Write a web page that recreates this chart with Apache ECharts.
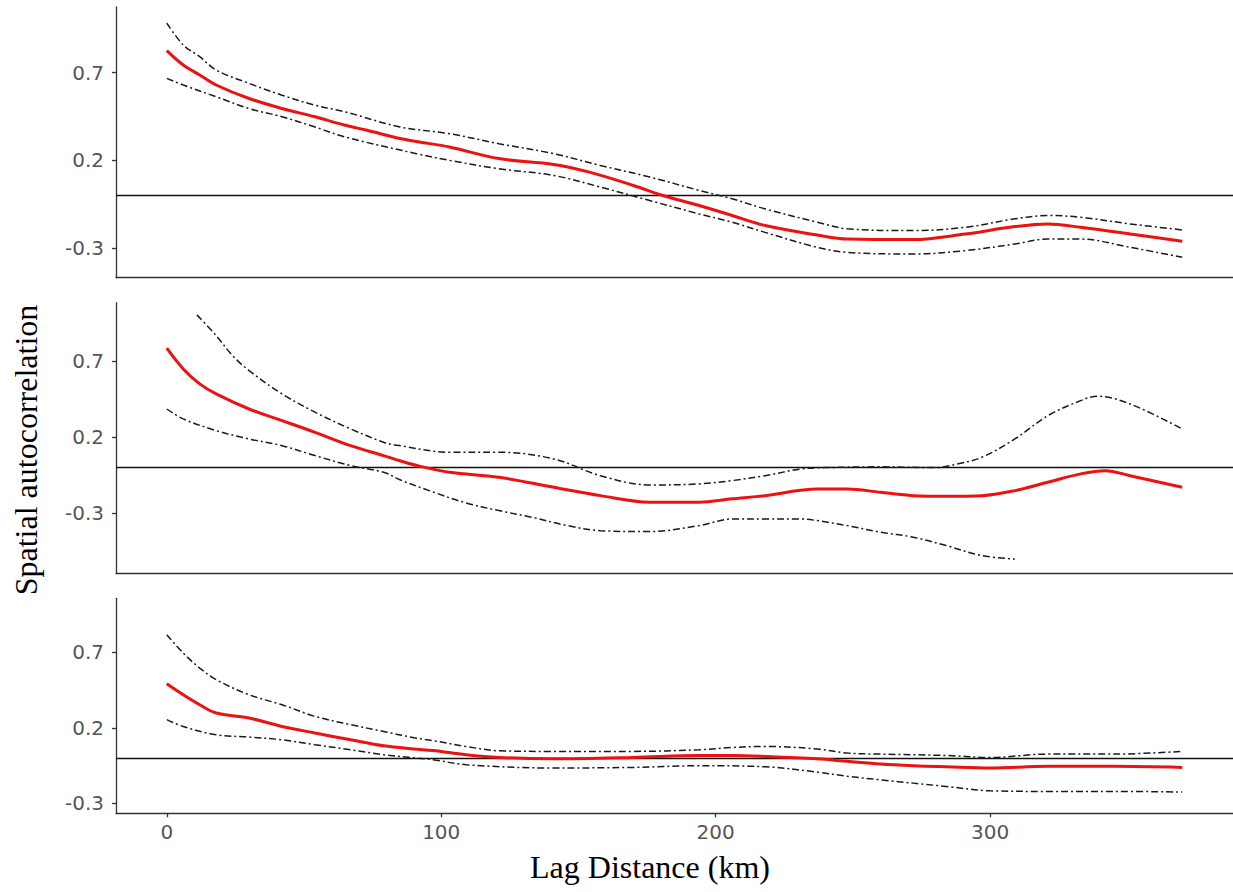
<!DOCTYPE html>
<html><head><meta charset="utf-8">
<script src="https://cdn.jsdelivr.net/npm/echarts@6/dist/echarts.min.js"></script>
<style>html,body{margin:0;padding:0;background:#fff}#c{width:1233px;height:892px}</style>
</head><body><div id="c"></div>
<script>
// Tick labels
const xTicks = [0, 100, 200, 300];
const yTicks = [-0.3, 0.2, 0.7];

// Panel 1
const p1FitX = [0,6,12,18,30,42,54,65,73,85,92,103,121,141,154,170,182,194,206,218,237,248,272,291,309,321,333,351,370];
const p1FitY = [0.825,0.743,0.686,0.629,0.552,0.495,0.448,0.40,0.371,0.324,0.305,0.276,0.21,0.177,0.133,0.057,-0.006,-0.057,-0.114,-0.171,-0.225,-0.248,-0.251,-0.219,-0.177,-0.162,-0.181,-0.219,-0.261];
const p1UpX = [0,6,12,18,30,42,54,65,85,103,121,141,158,176,194,206,218,237,248,272,291,309,321,333,351,370];
const p1UpY = [0.981,0.857,0.79,0.714,0.638,0.571,0.514,0.476,0.39,0.352,0.295,0.238,0.171,0.105,0.029,-0.019,-0.076,-0.152,-0.19,-0.2,-0.181,-0.133,-0.114,-0.124,-0.162,-0.196];
const p1LoX = [0,6,18,30,42,54,65,91,103,121,141,158,176,194,206,218,237,248,272,291,309,321,333,351,370];
const p1LoY = [0.667,0.629,0.562,0.495,0.448,0.39,0.333,0.238,0.2,0.152,0.114,0.048,-0.029,-0.105,-0.152,-0.21,-0.295,-0.324,-0.333,-0.314,-0.276,-0.248,-0.248,-0.295,-0.352];

// Panel 2
const p2FitX = [0,6,12,18,30,42,54,67,79,85,92,103,121,141,158,176,194,206,218,237,248,260,272,284,297,309,321,333,342,351,370];
const p2FitY = [0.784,0.648,0.55,0.484,0.385,0.309,0.232,0.144,0.079,0.045,0.01,-0.03,-0.063,-0.129,-0.184,-0.227,-0.227,-0.205,-0.184,-0.14,-0.14,-0.162,-0.184,-0.188,-0.184,-0.151,-0.096,-0.041,-0.02,-0.053,-0.129];
const p2UpX = [11,18,24,30,42,54,67,79,85,103,121,141,158,176,194,206,218,231,240,260,280,288,297,309,321,333,339,351,370];
const p2UpY = [1.003,0.867,0.735,0.637,0.484,0.364,0.254,0.167,0.144,0.101,0.101,0.057,-0.053,-0.114,-0.107,-0.085,-0.053,-0.009,0.0,0.005,0.0,0.024,0.068,0.188,0.341,0.44,0.469,0.418,0.254];
const p2LoX = [0,6,18,30,42,54,67,79,85,97,109,121,133,146,158,176,194,206,218,231,237,248,260,272,284,297,309];
const p2LoY = [0.385,0.32,0.243,0.188,0.144,0.079,0.013,-0.03,-0.08,-0.16,-0.232,-0.282,-0.326,-0.381,-0.414,-0.42,-0.381,-0.337,-0.337,-0.337,-0.348,-0.381,-0.424,-0.457,-0.512,-0.578,-0.6];

// Panel 3
const p3FitX = [0,6,12,18,30,42,54,67,79,90,97,109,121,140,170,194,206,218,237,248,260,272,284,300,321,345,370];
const p3FitY = [0.492,0.419,0.353,0.298,0.265,0.209,0.166,0.121,0.081,0.06,0.05,0.022,0.004,-0.005,0.004,0.017,0.017,0.011,-0.005,-0.022,-0.04,-0.051,-0.058,-0.066,-0.055,-0.055,-0.062];
const p3UpX = [0,6,12,18,30,42,54,67,79,90,97,109,121,140,170,194,206,218,237,248,260,284,300,321,345,370];
const p3UpY = [0.817,0.695,0.596,0.519,0.419,0.353,0.276,0.221,0.176,0.135,0.115,0.077,0.048,0.044,0.044,0.055,0.07,0.077,0.06,0.033,0.026,0.017,0.004,0.026,0.026,0.044];
const p3LoX = [0,6,18,30,42,54,67,79,88,97,109,140,170,194,218,237,248,260,284,300,321,345,370];
const p3LoY = [0.254,0.209,0.154,0.139,0.121,0.088,0.055,0.022,0.005,-0.011,-0.044,-0.066,-0.062,-0.051,-0.058,-0.093,-0.121,-0.144,-0.188,-0.217,-0.221,-0.221,-0.225];

const xTitle = 'Lag Distance (km)';
const yTitle = 'Spatial autocorrelation';

function zip(xs, ys) { return xs.map((x, i) => [x, ys[i]]); }

const panels = [
  { fit: zip(p1FitX, p1FitY), up: zip(p1UpX, p1UpY), lo: zip(p1LoX, p1LoY), top: 7, height: 270.7, min: -0.468, max: 1.073 },
  { fit: zip(p2FitX, p2FitY), up: zip(p2UpX, p2UpY), lo: zip(p2LoX, p2LoY), top: 302.7, height: 270.6, min: -0.694, max: 1.083 },
  { fit: zip(p3FitX, p3FitY), up: zip(p3UpX, p3UpY), lo: zip(p3LoX, p3LoY), top: 598.3, height: 215, min: -0.366, max: 1.058 }
];

const axisLineStyle = { color: '#333', width: 1.3 };
const tickFont = { fontSize: 20, color: '#555', fontFamily: 'DejaVu Sans' };
const grids = [], xAxes = [], yAxes = [], series = [];
panels.forEach((p, i) => {
  const last = i === panels.length - 1;
  grids.push({ left: 116, right: 0, top: p.top, height: p.height, containLabel: false });
  xAxes.push({
    gridIndex: i, type: 'value', min: -18.5, max: 388.5,
    axisLine: { show: true, onZero: false, lineStyle: axisLineStyle },
    axisTick: { show: last, length: 4, customValues: xTicks, lineStyle: axisLineStyle },
    axisLabel: Object.assign({ show: last, customValues: xTicks, margin: 9 }, tickFont),
    splitLine: { show: false }
  });
  yAxes.push({
    gridIndex: i, type: 'value', min: p.min, max: p.max,
    axisLine: { show: true, onZero: false, lineStyle: axisLineStyle },
    axisTick: { show: true, length: 4, customValues: yTicks, lineStyle: axisLineStyle },
    axisLabel: Object.assign({ customValues: yTicks, formatter: v => Number(v).toFixed(1), margin: 12 }, tickFont),
    splitLine: { show: false }
  });
  const dash = { color: '#1a1a1a', width: 1.5, type: [7, 3, 2, 3] };
  series.push({
    type: 'line', xAxisIndex: i, yAxisIndex: i, data: p.up, showSymbol: false, smooth: 0.35,
    lineStyle: dash, silent: true, z: 3
  });
  series.push({
    type: 'line', xAxisIndex: i, yAxisIndex: i, data: p.lo, showSymbol: false, smooth: 0.35,
    lineStyle: dash, silent: true, z: 3
  });
  series.push({
    type: 'line', xAxisIndex: i, yAxisIndex: i, data: p.fit, showSymbol: false, smooth: 0.35,
    lineStyle: { color: '#ee1111', width: 3 }, silent: true, z: 4,
    markLine: {
      silent: true, symbol: 'none', label: { show: false },
      lineStyle: { color: '#111', width: 1.3, type: 'solid' },
      data: [{ yAxis: 0 }], z: 2
    }
  });
});

const chart = echarts.init(document.getElementById('c'), null, { renderer: 'svg' });
chart.setOption({
  backgroundColor: '#fff',
  animation: false,
  grid: grids, xAxis: xAxes, yAxis: yAxes, series: series,
  graphic: [
    { type: 'text', x: 650, y: 867, style: { text: xTitle, font: '32px "Liberation Serif"', fill: '#000', align: 'center', verticalAlign: 'middle' } },
    { type: 'text', x: 26, y: 450, rotation: Math.PI / 2, style: { text: yTitle, font: '32px "Liberation Serif"', fill: '#000', align: 'center', verticalAlign: 'middle' } }
  ]
});
</script></body></html>
